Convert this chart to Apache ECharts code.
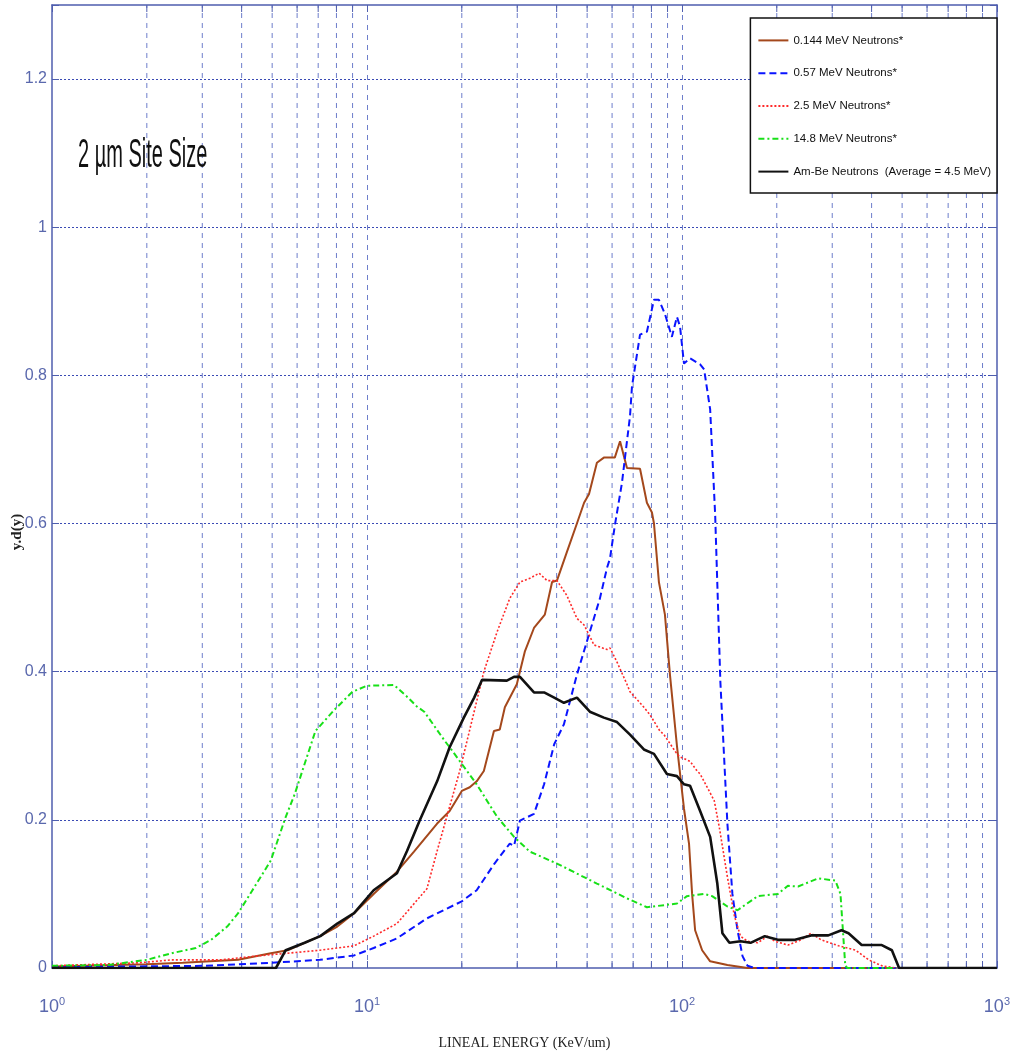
<!DOCTYPE html>
<html>
<head>
<meta charset="utf-8">
<script src="https://cdn.jsdelivr.net/npm/echarts@6/dist/echarts.min.js"></script>
<style>
  html, body { margin: 0; padding: 0; background: #fff; }
  #chart { width: 1013px; height: 1055px; }
</style>
</head>
<body>
<div id="chart"></div>
<script>
// Microdosimetric spectra y.d(y) versus lineal energy, 2 um site
const seriesNames = [
  '0.144 MeV Neutrons*',
  '0.57 MeV Neutrons*',
  '2.5 MeV Neutrons*',
  '14.8 MeV Neutrons*',
  'Am-Be Neutrons  (Average = 4.5 MeV)'
];

// [lineal energy (keV/um), y.d(y)]
const neutrons0144 = [
  [1, 0.002], [2.0, 0.005], [2.6, 0.007], [3.9, 0.011], [4.95, 0.02], [5.6, 0.024],
  [6.34, 0.034], [7.1, 0.043], [8.05, 0.056], [9.1, 0.074], [10.5, 0.1], [12.45, 0.13],
  [14.1, 0.157], [16.7, 0.195], [18.3, 0.212], [20.0, 0.239], [21.2, 0.244], [22.3, 0.252],
  [23.5, 0.266], [25.3, 0.32], [26.4, 0.322], [27.4, 0.352], [29.9, 0.383], [31.7, 0.427],
  [33.9, 0.459], [36.7, 0.477], [38.7, 0.521], [40.1, 0.523], [43.0, 0.56], [46.4, 0.6],
  [48.9, 0.628], [50.7, 0.64], [53.7, 0.682], [56.5, 0.689], [61.2, 0.689], [63.6, 0.711],
  [66.9, 0.675], [73.6, 0.674], [77.4, 0.628], [80.3, 0.615], [81.5, 0.6], [84.5, 0.521],
  [88.3, 0.477], [91.6, 0.396], [96.4, 0.3], [101.5, 0.215], [105.3, 0.168], [107.7, 0.1],
  [110.1, 0.051], [115.9, 0.024], [122.9, 0.009], [139.4, 0.004], [161.5, 0], [480, 0]
];

const neutrons057 = [
  [1, 0.001], [3.07, 0.003], [4.95, 0.007], [7.1, 0.011], [9.1, 0.017], [10.5, 0.027],
  [12.45, 0.04], [15.5, 0.067], [20.0, 0.09], [22.3, 0.105], [25.3, 0.14], [26.8, 0.154],
  [28.4, 0.168], [29.3, 0.165], [30.6, 0.199], [33.9, 0.208], [36.5, 0.248], [39.3, 0.302],
  [42.2, 0.329], [46.4, 0.396], [51.0, 0.454], [54.9, 0.499], [57.8, 0.54], [59.1, 0.553],
  [61.2, 0.597], [64.5, 0.655], [68.4, 0.745], [69.4, 0.785], [73.6, 0.855], [77.4, 0.859],
  [81.5, 0.902], [84.5, 0.902], [88.3, 0.883], [92.9, 0.852], [96.4, 0.879], [98.6, 0.866],
  [101.5, 0.816], [106.1, 0.823], [114.2, 0.815], [117.6, 0.808], [122.9, 0.754], [127.5, 0.611],
  [132.4, 0.387], [139.4, 0.195], [144.6, 0.1], [150.1, 0.051], [155.7, 0.016], [161.5, 0.003],
  [170, 0], [480, 0]
];

const neutrons25 = [
  [1, 0.003], [1.89, 0.007], [2.4, 0.011], [3.45, 0.011], [4.41, 0.016], [5.6, 0.02],
  [7.1, 0.024], [9.1, 0.03], [10.5, 0.043], [12.45, 0.06], [15.5, 0.107], [16.7, 0.158],
  [19.7, 0.266], [23.5, 0.4], [25.9, 0.454], [28.4, 0.499], [30.6, 0.521], [32.9, 0.526],
  [35.2, 0.533], [37.3, 0.523], [40.1, 0.523], [43.1, 0.503], [46.4, 0.472], [48.9, 0.463],
  [52.6, 0.436], [57.8, 0.43], [59.1, 0.432], [62.2, 0.413], [66.9, 0.383], [68.4, 0.373],
  [75.7, 0.352], [79.1, 0.342], [85.1, 0.32], [87.7, 0.315], [96.4, 0.289], [98.6, 0.285],
  [106.1, 0.279], [111.7, 0.266], [114.2, 0.262], [126.6, 0.226], [131.4, 0.19], [139.4, 0.123],
  [146.8, 0.07], [153.4, 0.043], [161.5, 0.036], [174, 0.034], [187.3, 0.043], [197.2, 0.036],
  [217, 0.031], [238.9, 0.038], [257, 0.047], [276.7, 0.038], [314, 0.03], [356, 0.024],
  [391.6, 0.011], [431, 0.003], [478, 0]
];

const neutrons148 = [
  [1, 0.003], [1.5, 0.004], [2.0, 0.011], [2.4, 0.02], [2.86, 0.027], [3.2, 0.038],
  [3.6, 0.056], [3.9, 0.074], [4.3, 0.103], [4.95, 0.145], [5.5, 0.202], [5.9, 0.235],
  [6.86, 0.32], [7.9, 0.349], [9.0, 0.373], [10, 0.381], [12.2, 0.382], [13.5, 0.365],
  [14.4, 0.353], [15.2, 0.346], [17.7, 0.306], [18.3, 0.298], [22.3, 0.248], [25.9, 0.204],
  [29.3, 0.177], [32.9, 0.157], [40.1, 0.141], [53.7, 0.114], [66.9, 0.094], [77.4, 0.082],
  [96.4, 0.087], [103.7, 0.097], [117.6, 0.1], [124.7, 0.097], [139.4, 0.083], [150.1, 0.078],
  [174, 0.097], [201.6, 0.1], [217, 0.111], [233.7, 0.11], [270.8, 0.121], [307, 0.118],
  [318.6, 0.1], [330, 0.003], [335, 0], [478, 0]
];

const amBe = [
  [1, 0], [5.14, 0], [5.52, 0.024], [6.34, 0.034], [7.11, 0.043], [8.05, 0.06], [9.1, 0.074],
  [10.5, 0.105], [12.45, 0.128], [13.4, 0.158], [14.7, 0.199], [16.7, 0.252], [18.3, 0.298],
  [20.3, 0.338], [21.9, 0.365], [23.2, 0.389], [27.8, 0.388], [29.3, 0.393], [30.6, 0.393],
  [33.9, 0.372], [36.5, 0.372], [39.3, 0.365], [42.2, 0.358], [46.4, 0.365], [51.0, 0.346],
  [56.5, 0.338], [62.2, 0.332], [68.4, 0.315], [75.7, 0.295], [81.5, 0.289], [89.6, 0.262],
  [96.4, 0.259], [101.5, 0.248], [106.1, 0.246], [114.2, 0.212], [122.9, 0.177], [129.5, 0.114],
  [134.4, 0.047], [141.5, 0.034], [153.4, 0.036], [165.1, 0.034], [183.2, 0.043], [201.6, 0.038],
  [228.6, 0.038], [257, 0.044], [291.5, 0.044], [321, 0.051], [338, 0.047], [372, 0.031],
  [431, 0.031], [464, 0.024], [489, 0], [1000, 0]
];

// minor log-decade positions (2..9 within each decade)
const minorTicks = [2, 3, 4, 5, 6, 7, 8, 9, 20, 30, 40, 50, 60, 70, 80, 90, 200, 300, 400, 500, 600, 700, 800, 900];

const X_MIN = 1, X_MAX = 1000, Y_MIN = 0, Y_MAX = 1.3, Y_STEP = 0.2;

const AXIS_COLOR = '#4f5eae';
const LABEL_COLOR = '#5a68ad';
const VGRID_COLOR = '#6e7ecb';
const HGRID_COLOR = '#3a4ab4';
const SANS = "'Liberation Sans', Arial, sans-serif";
const SERIF = "'Liberation Serif', 'DejaVu Serif', serif";

const chart = echarts.init(document.getElementById('chart'), null, { renderer: 'canvas' });

function lineSeries(name, data, color, width, dash) {
  return {
    name: name,
    type: 'line',
    data: data,
    xAxisIndex: 0,
    yAxisIndex: 0,
    showSymbol: false,
    symbol: 'none',
    smooth: false,
    z: 3,
    lineStyle: { color: color, width: width, type: dash },
    itemStyle: { color: color }
  };
}

const baseXAxis = {
  type: 'log',
  logBase: 10,
  min: X_MIN,
  max: X_MAX,
  axisLine: { show: true, onZero: false, lineStyle: { color: AXIS_COLOR, width: 1.5 } },
  axisTick: { show: true, inside: true, length: 7, lineStyle: { color: AXIS_COLOR, width: 1 } },
  splitLine: { show: false }
};

const baseYAxis = {
  type: 'value',
  min: Y_MIN,
  max: Y_MAX,
  interval: Y_STEP,
  axisLine: { show: true, onZero: false, lineStyle: { color: AXIS_COLOR, width: 1.5 } },
  axisTick: { show: true, inside: true, length: 7, lineStyle: { color: AXIS_COLOR, width: 1 } },
  splitLine: { show: false }
};

const option = {
  animation: false,
  backgroundColor: '#ffffff',
  grid: { left: 52, right: 16, top: 5, bottom: 80, containLabel: false },
  xAxis: [
    Object.assign({}, baseXAxis, {
      position: 'bottom',
      name: 'LINEAL ENERGY (KeV/um)',
      nameLocation: 'middle',
      nameGap: 68,
      nameTextStyle: { fontFamily: SERIF, fontSize: 14, color: '#222' },
      splitLine: {
        show: true, showMinLine: false, showMaxLine: false,
        lineStyle: { color: VGRID_COLOR, width: 1, type: [5, 5] }
      },
      axisLabel: {
        margin: 28,
        formatter: function (v) {
          const e = Math.round(Math.log10(v));
          return '{b|10}{s|' + e + '}';
        },
        rich: {
          b: { fontFamily: SANS, fontSize: 18, color: LABEL_COLOR, lineHeight: 22 },
          s: { fontFamily: SANS, fontSize: 11, color: LABEL_COLOR, verticalAlign: 'top', lineHeight: 22, padding: [0, 0, 9, 0] }
        }
      }
    }),
    Object.assign({}, baseXAxis, {
      position: 'top',
      axisLabel: { show: false }
    })
  ],
  yAxis: [
    Object.assign({}, baseYAxis, {
      position: 'left',
      splitLine: {
        show: true, showMinLine: false, showMaxLine: false,
        lineStyle: { color: HGRID_COLOR, width: 1, type: [2, 2] }
      },
      axisLabel: {
        margin: 5,
        fontFamily: SANS,
        fontSize: 16,
        color: LABEL_COLOR,
        formatter: function (v) {
          const k = v / Y_STEP;
          if (Math.abs(k - Math.round(k)) > 1e-6) return '';
          return String(+v.toFixed(1));
        }
      }
    }),
    Object.assign({}, baseYAxis, {
      position: 'right',
      axisLabel: { show: false }
    })
  ],
  legend: {
    data: seriesNames,
    orient: 'vertical',
    right: 16,
    top: 18,
    z: 20,
    padding: [16, 6, 15, 7],
    itemGap: 20,
    itemWidth: 30,
    itemHeight: 16,
    backgroundColor: '#ffffff',
    borderColor: '#111111',
    borderWidth: 1.5,
    borderRadius: 0,
    itemStyle: { opacity: 0 },
    textStyle: { fontFamily: SANS, fontSize: 11.5, color: '#111' },
    selectedMode: false
  },
  graphic: [
    {
      type: 'text',
      x: 78,
      y: 156,
      scaleX: 0.5,
      z: 10,
      style: {
        text: '2 µm Site Size',
        fontFamily: SANS,
        fontSize: 40,
        fill: '#111',
        textAlign: 'left',
        textVerticalAlign: 'middle'
      }
    },
    {
      type: 'text',
      x: 17,
      y: 532,
      rotation: Math.PI / 2,
      z: 10,
      style: {
        text: 'y.d(y)',
        fontFamily: SERIF,
        fontWeight: 'bold',
        fontSize: 15,
        fill: '#222',
        textAlign: 'center',
        textVerticalAlign: 'middle'
      }
    }
  ],
  series: [
    {
      name: 'minor-decade-grid',
      type: 'custom',
      silent: true,
      z: 1,
      xAxisIndex: 0,
      yAxisIndex: 0,
      data: minorTicks.map(function (v) { return [v, Y_MIN]; }),
      encode: { x: 0, y: 1 },
      renderItem: function (params, api) {
        const v = api.value(0);
        const b = api.coord([v, Y_MIN]);
        const t = api.coord([v, Y_MAX]);
        return {
          type: 'group',
          children: [
            { type: 'line', shape: { x1: b[0], y1: b[1], x2: t[0], y2: t[1] },
              style: { stroke: VGRID_COLOR, lineWidth: 1, lineDash: [5, 5] } },
            { type: 'line', shape: { x1: b[0], y1: b[1], x2: b[0], y2: b[1] - 7 },
              style: { stroke: AXIS_COLOR, lineWidth: 1 } },
            { type: 'line', shape: { x1: t[0], y1: t[1], x2: t[0], y2: t[1] + 7 },
              style: { stroke: AXIS_COLOR, lineWidth: 1 } }
          ]
        };
      }
    },
    lineSeries(seriesNames[0], neutrons0144, '#a4481c', 2, 'solid'),
    lineSeries(seriesNames[1], neutrons057, '#0a14ff', 2, [7, 4]),
    lineSeries(seriesNames[2], neutrons25, '#ff2a2a', 1.6, [2, 2]),
    lineSeries(seriesNames[3], neutrons148, '#18e018', 2, [6, 3, 2, 3]),
    lineSeries(seriesNames[4], amBe, '#111111', 2.6, 'solid')
  ]
};

chart.setOption(option);
</script>
</body>
</html>
